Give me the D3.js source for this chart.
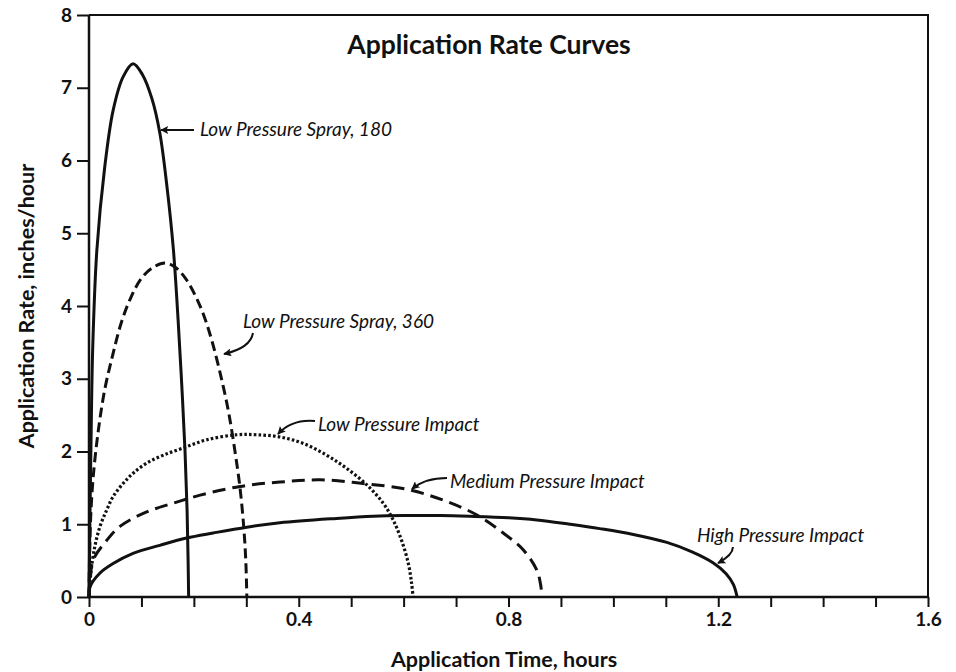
<!DOCTYPE html>
<html>
<head>
<meta charset="utf-8">
<script src="https://cdn.jsdelivr.net/npm/d3@7"></script>
<style>
  html, body { margin: 0; padding: 0; background: #fff; }
  svg { display: block; }
  text { fill: #111; }
</style>
</head>
<body>
<svg id="chart" width="956" height="672"></svg>
<script>
// ---------- data ----------
const title = "Application Rate Curves";
const xTitle = "Application Time, hours";
const yTitle = "Application Rate, inches/hour";
const xTickValues = [0,0.1,0.2,0.3,0.4,0.5,0.6,0.7,0.8,0.9,1.0,1.1,1.2,1.3,1.4,1.5,1.6];
const xTickLabels = ["0","0.4","0.8","1.2","1.6"];
const yTickValues = [0,1,2,3,4,5,6,7,8];

const seriesNames = [
  "Low Pressure Spray, 180",
  "Low Pressure Spray, 360",
  "Low Pressure Impact",
  "Medium Pressure Impact",
  "High Pressure Impact"
];

// [time (hours), rate (in/hr)]
const lowSpray180 = [[0,0],[0.002,1.2],[0.004,2.2],[0.007,3.4],[0.015,4.77],[0.030,5.91],[0.046,6.69],[0.065,7.15],[0.084,7.33],[0.102,7.18],[0.120,6.85],[0.135,6.38],[0.149,5.62],[0.161,4.77],[0.170,3.80],[0.177,2.9],[0.183,2.02],[0.187,1.2],[0.189,0.5],[0.190,0]];
const lowSpray360 = [[0,0],[0.001,0.5],[0.003,1.06],[0.008,1.65],[0.018,2.30],[0.030,2.85],[0.046,3.35],[0.062,3.78],[0.080,4.12],[0.100,4.38],[0.122,4.53],[0.145,4.59],[0.165,4.53],[0.185,4.37],[0.203,4.14],[0.220,3.85],[0.236,3.48],[0.252,3.02],[0.266,2.55],[0.278,2.02],[0.288,1.50],[0.295,0.97],[0.299,0.5],[0.301,0]];
const lowImpact = [[0,0],[0.003,0.3],[0.011,0.69],[0.021,0.97],[0.034,1.20],[0.046,1.38],[0.065,1.56],[0.084,1.70],[0.110,1.84],[0.142,1.95],[0.180,2.05],[0.224,2.16],[0.282,2.23],[0.320,2.23],[0.364,2.20],[0.409,2.11],[0.453,1.95],[0.491,1.77],[0.530,1.54],[0.561,1.29],[0.580,1.06],[0.596,0.78],[0.609,0.46],[0.615,0.2],[0.618,0]];
const mediumImpact = [[0,0],[0.002,0.2],[0.008,0.51],[0.034,0.78],[0.059,0.97],[0.110,1.17],[0.161,1.29],[0.212,1.40],[0.288,1.52],[0.364,1.58],[0.441,1.61],[0.523,1.56],[0.606,1.48],[0.676,1.33],[0.739,1.13],[0.790,0.88],[0.828,0.65],[0.854,0.37],[0.861,0.18],[0.864,0]];
const highImpact = [[0,0],[0.002,0.14],[0.021,0.33],[0.046,0.46],[0.084,0.60],[0.135,0.71],[0.186,0.81],[0.237,0.88],[0.301,0.96],[0.364,1.02],[0.472,1.08],[0.542,1.11],[0.599,1.12],[0.669,1.12],[0.726,1.11],[0.800,1.09],[0.854,1.06],[0.917,1.00],[0.974,0.94],[1.038,0.86],[1.102,0.75],[1.150,0.62],[1.190,0.47],[1.215,0.32],[1.229,0.17],[1.236,0]];

// ---------- layout / style ----------
const plot = { left: 89, right: 928, top: 15, bottom: 597 };
const styles = [
  { dash: null },
  { dash: "10,5" },
  { dash: "2.6,2.2" },
  { dash: "13,7" },
  { dash: null }
];
// annotation placement in data units: text anchor + arrow path (start, control, end)
const annoLayout = [
  { tx: 0.2117, ty: 6.337, arrow: [[0.2002,6.419],[0.169,6.419],[0.1373,6.419]] },
  { tx: 0.2937, ty: 3.698, arrow: [[0.3127,3.629],[0.308,3.423],[0.2574,3.340]] },
  { tx: 0.4367, ty: 2.282, arrow: [[0.431,2.419],[0.387,2.447],[0.3604,2.241]] },
  { tx: 0.6884, ty: 1.498, arrow: [[0.6827,1.636],[0.6407,1.636],[0.616,1.485]] },
  { tx: 1.1594, ty: 0.756, arrow: [[1.228,0.687],[1.228,0.577],[1.1995,0.467]] }
];

const FONT = "Lato, 'Open Sans', sans-serif";
const svg = d3.select("#chart");

const x = d3.scaleLinear().domain([0, 1.6]).range([plot.left, plot.right]);
const y = d3.scaleLinear().domain([0, 8]).range([plot.bottom, plot.top]);

// arrow marker
svg.append("defs").append("marker")
  .attr("id", "arrowhead")
  .attr("viewBox", "0 0 10 10")
  .attr("refX", 9).attr("refY", 5)
  .attr("markerWidth", 12).attr("markerHeight", 8)
  .attr("markerUnits", "userSpaceOnUse")
  .attr("orient", "auto")
  .append("path").attr("d", "M0,0 L10,5 L0,10 L2,5 Z").attr("fill", "#111");

// frame (top + right)
svg.append("path")
  .attr("d", `M${plot.left},${plot.top} H${plot.right} V${plot.bottom}`)
  .attr("fill", "none").attr("stroke", "#111").attr("stroke-width", 2);

// x axis
const xAxis = d3.axisBottom(x)
  .tickValues(xTickValues)
  .tickSize(10).tickPadding(6)
  .tickFormat(d => {
    const s = d3.format("~g")(+d.toFixed(2));
    return xTickLabels.includes(s) ? s : "";
  });
const gx = svg.append("g").attr("transform", `translate(0,${plot.bottom})`).call(xAxis);
gx.select(".domain").remove();
gx.selectAll(".tick line").attr("stroke", "#111").attr("stroke-width", 2);
gx.selectAll(".tick text").attr("font-family", FONT).attr("font-weight", 700)
  .attr("font-size", 19).attr("fill", "#111");

// y axis
const yAxis = d3.axisLeft(y).tickValues(yTickValues).tickSize(12).tickPadding(5).tickFormat(d3.format("d"));
const gy = svg.append("g").attr("transform", `translate(${plot.left},0)`).call(yAxis);
gy.select(".domain").remove();
gy.selectAll(".tick line").attr("stroke", "#111").attr("stroke-width", 2);
gy.selectAll(".tick text").attr("font-family", FONT).attr("font-weight", 700)
  .attr("font-size", 19).attr("fill", "#111");

// axis lines
svg.append("line").attr("x1", plot.left).attr("x2", plot.left).attr("y1", plot.top).attr("y2", plot.bottom + 1)
  .attr("stroke", "#111").attr("stroke-width", 2.5);
svg.append("line").attr("x1", plot.left - 1).attr("x2", plot.right).attr("y1", plot.bottom).attr("y2", plot.bottom)
  .attr("stroke", "#111").attr("stroke-width", 2.5);

// curves
const allSeries = [lowSpray180, lowSpray360, lowImpact, mediumImpact, highImpact];
const line = d3.line().x(d => x(d[0])).y(d => y(d[1])).curve(d3.curveCatmullRom.alpha(0.5));
svg.append("g").selectAll("path").data(allSeries).join("path")
  .attr("d", line)
  .attr("fill", "none")
  .attr("stroke", "#111")
  .attr("stroke-width", (d, i) => i === 2 ? 3.2 : 3)
  .attr("stroke-dasharray", (d, i) => styles[i].dash)
  .attr("stroke-linejoin", "round");

// annotations
const ga = svg.append("g");
seriesNames.forEach((name, i) => {
  const L = annoLayout[i];
  const [p0, pc, p1] = L.arrow;
  ga.append("path")
    .attr("d", `M${x(p0[0])},${y(p0[1])} Q${x(pc[0])},${y(pc[1])} ${x(p1[0])},${y(p1[1])}`)
    .attr("fill", "none").attr("stroke", "#111").attr("stroke-width", 2)
    .attr("marker-end", "url(#arrowhead)");
  ga.append("text")
    .attr("x", x(L.tx)).attr("y", y(L.ty))
    .attr("font-family", FONT).attr("font-style", "italic").attr("font-size", 19)
    .text(name);
});

// title
svg.append("text").attr("x", 489).attr("y", 54).attr("text-anchor", "middle")
  .attr("font-family", FONT).attr("font-weight", 700).attr("font-size", 26.5)
  .text(title);

// axis titles
svg.append("text").attr("x", 504).attr("y", 667).attr("text-anchor", "middle")
  .attr("font-family", FONT).attr("font-weight", 700).attr("font-size", 21.5)
  .text(xTitle);
svg.append("text")
  .attr("transform", `translate(34,${(plot.top + plot.bottom) / 2}) rotate(-90)`)
  .attr("text-anchor", "middle")
  .attr("font-family", FONT).attr("font-weight", 700).attr("font-size", 21.5)
  .text(yTitle);
</script>
</body>
</html>
